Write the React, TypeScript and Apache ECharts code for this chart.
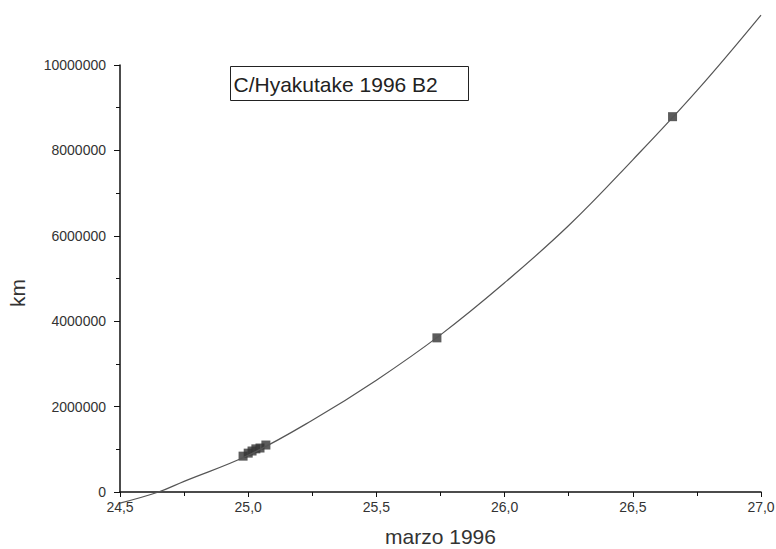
import React, { useEffect, useRef } from "react";
import * as echarts from "echarts";

const curveX = [24.5, 24.65, 24.75, 25.0, 25.25, 25.5, 25.75, 26.0, 26.25, 26.5, 26.75, 27.0];
const curveY = [-260000, 0, 250000, 860000, 1680000, 2620000, 3680000, 4900000, 6240000, 7780000, 9400000, 11170000];

const pointX = [24.98, 25.0, 25.015, 25.03, 25.046, 25.069, 25.736, 26.655];
const pointY = [840000, 910000, 960000, 1010000, 1030000, 1100000, 3610000, 8790000];

const xTicks = [24.5, 25.0, 25.5, 26.0, 26.5, 27.0];
const yTicks = [0, 2000000, 4000000, 6000000, 8000000, 10000000];

const titleText = "C/Hyakutake 1996 B2";
const xName = "marzo 1996";
const yName = "km";

export default function App() {
  const ref = useRef<HTMLDivElement>(null);
  useEffect(() => {
    if (!ref.current) return;
    const chart = echarts.init(ref.current, null, { renderer: "svg", width: 776, height: 549 });
    const font = "'Liberation Sans', Arial, sans-serif";
    chart.setOption({
      animation: false,
      backgroundColor: "#ffffff",
      grid: { left: 120, top: 65, right: 15, bottom: 57, containLabel: false, outerBoundsMode: "none" },
      xAxis: {
        type: "value",
        min: xTicks[0],
        max: xTicks[xTicks.length - 1],
        interval: 0.5,
        name: xName,
        nameLocation: "middle",
        nameGap: 34,
        nameTextStyle: { fontFamily: font, fontSize: 21, color: "#333" },
        axisLine: { show: true, onZero: false, lineStyle: { color: "#111", width: 1.5 } },
        axisTick: { show: true, inside: false, length: 5, lineStyle: { color: "#111" } },
        minorTick: { show: true, splitNumber: 2, length: 4, lineStyle: { color: "#111" } },
        splitLine: { show: false },
        axisLabel: {
          fontFamily: font,
          fontSize: 14,
          color: "#333",
          margin: 8,
          formatter: (v: number) => v.toFixed(1).replace(".", ","),
        },
      },
      yAxis: {
        type: "value",
        min: yTicks[0],
        max: yTicks[yTicks.length - 1],
        interval: 2000000,
        axisLine: { show: true, onZero: false, lineStyle: { color: "#111", width: 1.5 } },
        axisTick: { show: true, inside: false, length: 6, lineStyle: { color: "#111" } },
        minorTick: { show: true, splitNumber: 2, length: 4, lineStyle: { color: "#111" } },
        splitLine: { show: false },
        axisLabel: {
          fontFamily: font,
          fontSize: 14,
          color: "#333",
          margin: 14,
          formatter: (v: number) => String(Math.round(v)),
        },
      },
      graphic: [
        {
          type: "group",
          left: 230,
          top: 66,
          children: [
            { type: "rect", shape: { x: 0, y: 0, width: 238, height: 34 }, style: { fill: "#fff", stroke: "#222", lineWidth: 1 } },
            {
              type: "text",
              x: 3,
              y: 18,
              style: { text: titleText, font: "21px " + font, fill: "#222", verticalAlign: "middle", textAlign: "left" },
            },
          ],
        },
        {
          type: "text",
          x: 17,
          y: 293,
          rotation: Math.PI / 2,
          style: { text: yName, font: "21px " + font, fill: "#333", verticalAlign: "middle", textAlign: "center" },
        },
      ],
      series: [
        {
          type: "line",
          data: curveX.map((x, i) => [x, curveY[i]]),
          smooth: 0.4,
          clip: false,
          showSymbol: false,
          lineStyle: { color: "#555", width: 1.2 },
        },
        {
          type: "scatter",
          data: pointX.map((x, i) => [x, pointY[i]]),
          symbol: "rect",
          symbolSize: 9,
          itemStyle: { color: "#333" },
        },
      ],
    });
    return () => chart.dispose();
  }, []);
  return <div ref={ref} style={{ position: "fixed", left: 0, top: 0, width: 776, height: 549 }} />;
}
